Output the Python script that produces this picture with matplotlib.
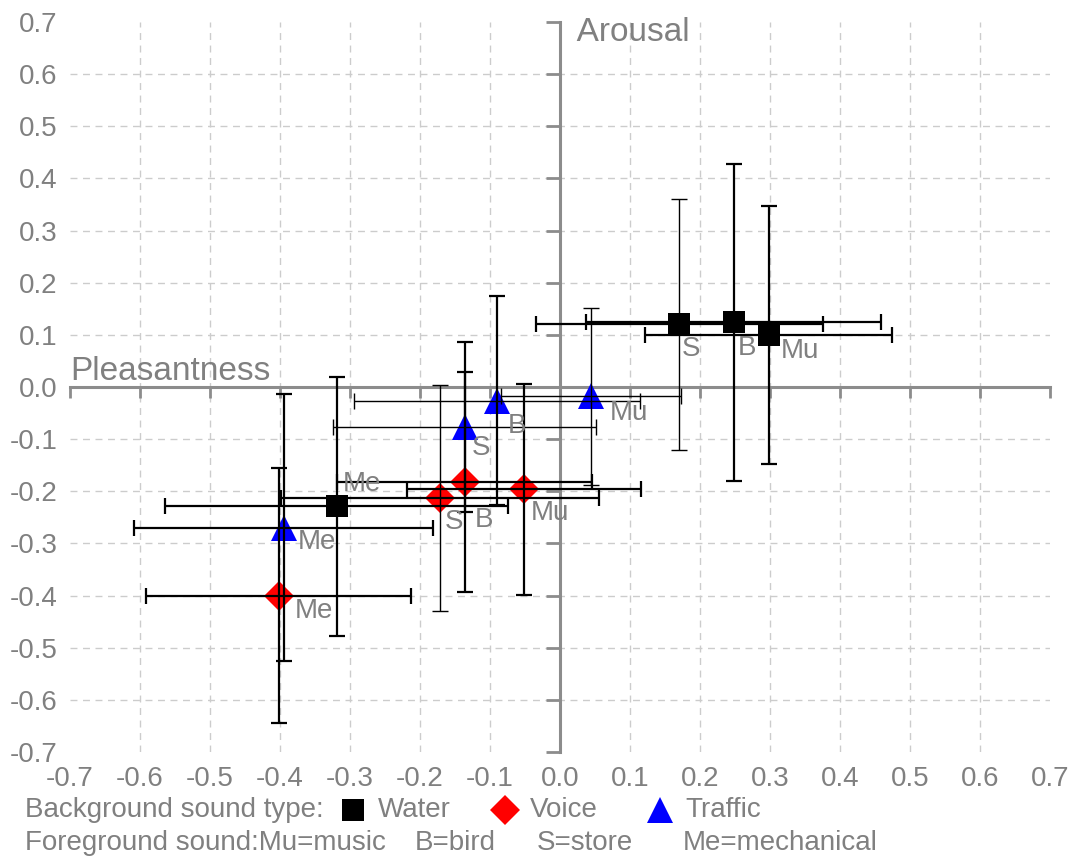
import matplotlib
matplotlib.use("Agg")
import matplotlib.pyplot as plt
from matplotlib.lines import Line2D

plt.rcParams['font.family'] = ['Liberation Sans', 'DejaVu Sans']

# foreground sound labels (same order in every series)
fg_labels = ['S', 'B', 'Mu', 'Me']

# Water background
pleasant_water = [0.170, 0.248, 0.298, -0.319]
arousal_water = [0.120, 0.124, 0.100, -0.229]
xerr_water = [0.205, 0.211, 0.176, 0.245]
yerr_water = [0.240, 0.304, 0.248, 0.248]

# Voice background
pleasant_voice = [-0.171, -0.136, -0.052, -0.402]
arousal_voice = [-0.213, -0.183, -0.196, -0.400]
xerr_voice = [0.227, 0.182, 0.167, 0.189]
yerr_voice = [0.216, 0.211, 0.202, 0.244]

# Traffic background
pleasant_traffic = [-0.136, -0.090, 0.044, -0.395]
arousal_traffic = [-0.076, -0.026, -0.018, -0.270]
xerr_traffic = [0.188, 0.204, 0.129, 0.214]
yerr_traffic = [0.163, 0.201, 0.169, 0.256]

ticks = [-0.7, -0.6, -0.5, -0.4, -0.3, -0.2, -0.1, 0.0, 0.1, 0.2, 0.3, 0.4, 0.5, 0.6, 0.7]
tick_labels = ['%.1f' % t for t in ticks]

GRAY = '#808080'
AXIS_GRAY = '#8c8c8c'

series = [
    dict(x=pleasant_water, y=arousal_water, xe=xerr_water, ye=yerr_water,
         marker='s', ms=15.5, color='black',
         lw_x=[1.6, 1.6, 1.6, 1.6], lw_y=[1.0, 1.6, 1.6, 1.6],
         offs=[(3, -25), (4, -26), (12, -16), (6, 22)]),
    dict(x=pleasant_voice, y=arousal_voice, xe=xerr_voice, ye=yerr_voice,
         marker='D', ms=15.5, color='#ff0000',
         lw_x=[1.6, 1.6, 1.6, 1.6], lw_y=[1.0, 1.6, 1.6, 1.6],
         offs=[(4, -24), (10, -38), (7, -24), (16, -15)]),
    dict(x=pleasant_traffic, y=arousal_traffic, xe=xerr_traffic, ye=yerr_traffic,
         marker='^', ms=19, color='#0000ff',
         lw_x=[1.0, 1.0, 1.0, 1.6], lw_y=[1.6, 1.6, 1.0, 1.6],
         offs=[(7, -21), (11, -25), (19, -17), (14, -14)]),
]

fig = plt.figure(figsize=(10.72, 8.58), dpi=100)
ax = fig.add_axes([70 / 1072, 106 / 858, 980 / 1072, 730 / 858])

ax.set_xlim(-0.7, 0.7)
ax.set_ylim(-0.7, 0.7)
for s in ax.spines.values():
    s.set_visible(False)

# tick labels at the outer edges, no marks there
ax.set_xticks(ticks)
ax.set_xticklabels(tick_labels)
ax.set_yticks(ticks)
ax.set_yticklabels(tick_labels)
ax.tick_params(length=0, labelsize=20, labelcolor=GRAY)
ax.tick_params(axis='x', pad=10)
ax.tick_params(axis='y', pad=9)

# dashed grid on the inner ticks only
inner = ticks[1:-1]
ax.vlines(inner, -0.7, 0.7, colors='#cccccc', linestyles=(0, (5, 4)), linewidth=1.0, zorder=0)
ax.hlines(inner, -0.7, 0.7, colors='#cccccc', linestyles=(0, (5, 4)), linewidth=1.0, zorder=0)

# axes through the origin with tick marks
xzero = ax.secondary_xaxis(0.5)
xzero.set_alignment('bottom')
xzero.set_xticks(ticks)
xzero.tick_params(direction='out', length=8, width=2, color=AXIS_GRAY,
                  labelbottom=False, labeltop=False)
xzero.spines['bottom'].set_color(AXIS_GRAY)
xzero.spines['bottom'].set_linewidth(2.2)

yzero = ax.secondary_yaxis(0.5)
yzero.set_alignment('left')
yzero.set_yticks(ticks)
yzero.tick_params(direction='out', length=10, width=2, color=AXIS_GRAY,
                  labelleft=False, labelright=False)
yzero.spines['left'].set_color(AXIS_GRAY)
yzero.spines['left'].set_linewidth(2.2)

for sr in series:
    ax.plot(sr['x'], sr['y'], linestyle='none', marker=sr['marker'], markersize=sr['ms'],
            color=sr['color'], markeredgewidth=0, zorder=3)
    for i in range(len(sr['x'])):
        ax.errorbar(sr['x'][i], sr['y'][i], xerr=sr['xe'][i], fmt='none', ecolor='black',
                    elinewidth=sr['lw_x'][i], capsize=5.5, capthick=sr['lw_x'][i], zorder=4)
        ax.errorbar(sr['x'][i], sr['y'][i], yerr=sr['ye'][i], fmt='none', ecolor='black',
                    elinewidth=sr['lw_y'][i], capsize=5.5, capthick=sr['lw_y'][i], zorder=4)
        ax.annotate(fg_labels[i], (sr['x'][i], sr['y'][i]), xytext=sr['offs'][i],
                    textcoords='offset pixels', ha='left', va='center',
                    fontsize=20, color=GRAY, zorder=5)

ax.text(0.0, 0.5, 'Pleasantness', transform=ax.transAxes, ha='left', va='bottom',
        fontsize=24, color=GRAY)
ax.text(0.5, 0.985, '  Arousal', transform=ax.transAxes, ha='left', va='center',
        fontsize=24, color=GRAY)

# legend rows under the chart
y1 = 1 - 810 / 858
y2 = 1 - 843 / 858
fig.text(25 / 1072, y1, 'Background sound type:', ha='left', va='center', fontsize=20, color=GRAY)
legend_items = [('s', 15.5, 'black', 353, 'Water', 378),
                ('D', 15.5, '#ff0000', 505, 'Voice', 530),
                ('^', 19, '#0000ff', 660, 'Traffic', 685)]
for mk, ms, col, mx, name, tx in legend_items:
    fig.add_artist(Line2D([mx / 1072], [y1], transform=fig.transFigure, marker=mk,
                          markersize=ms, color=col, markeredgewidth=0, linestyle='none'))
    fig.text(tx / 1072, y1, name, ha='left', va='center', fontsize=20, color=GRAY)

for txt, tx in [('Foreground sound:Mu=music', 25), ('B=bird', 415),
                ('S=store', 537), ('Me=mechanical', 683)]:
    fig.text(tx / 1072, y2, txt, ha='left', va='center', fontsize=20, color=GRAY)

fig.savefig('out.png', dpi=100)
